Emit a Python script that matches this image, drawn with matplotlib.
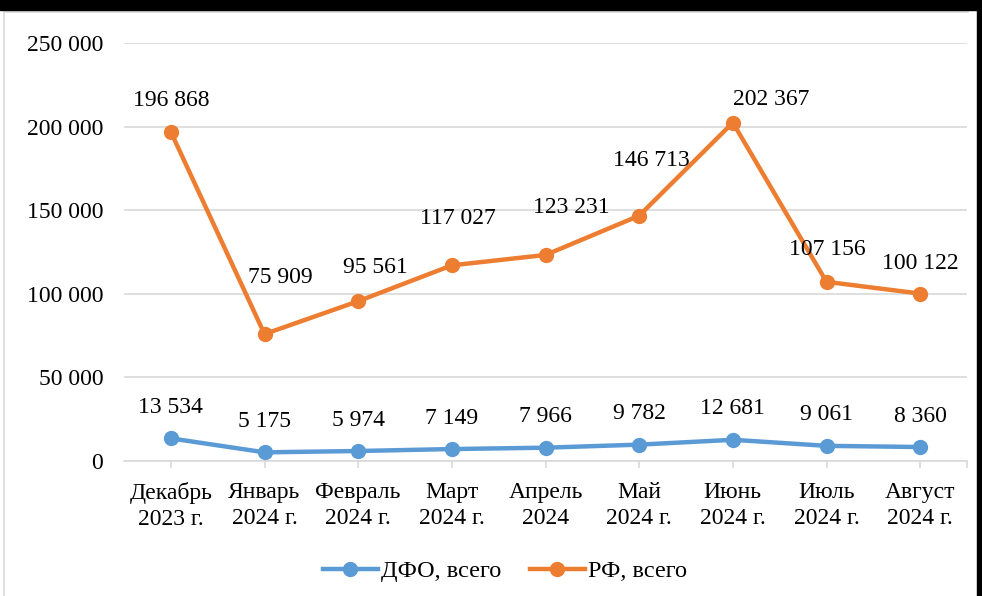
import matplotlib
matplotlib.use("Agg")
import matplotlib.pyplot as plt
from matplotlib.patches import Rectangle
from matplotlib.lines import Line2D

# === data ===
CATEGORIES = ["Декабрь\n2023 г.", "Январь\n2024 г.", "Февраль\n2024 г.", "Март\n2024 г.",
              "Апрель\n2024", "Май\n2024 г.", "Июнь\n2024 г.", "Июль\n2024 г.", "Август\n2024 г."]
DFO = [13534, 5175, 5974, 7149, 7966, 9782, 12681, 9061, 8360]
RF = [196868, 75909, 95561, 117027, 123231, 146713, 202367, 107156, 100122]
Y_TICKS = [0, 50000, 100000, 150000, 200000, 250000]

# label offsets (px) as placed by hand in the original chart
RF_LABEL_DX = [0, 16, 17, 6, 26, 12, 38, 1, 0]
RF_LABEL_DY = [31, 57, 34, 47, 47, 55, 23, 32, 30]
DFO_LABEL_DY = 31

BLUE = "#5B9BD5"
ORANGE = "#ED7D31"
GRID = "#D9D9D9"
FS = 17
PX = 72 / 100  # px -> points

plt.rcParams["font.family"] = ["Liberation Serif", "DejaVu Serif"]


def fmt(v):
    return f"{v:,}".replace(",", " ")


fig = plt.figure(figsize=(9.82, 5.96), dpi=100)
ax = fig.add_axes([124 / 982, 1 - 461 / 596, (967 - 124) / 982, (461 - 43) / 596])

x = list(range(len(CATEGORIES)))
ax.plot(x, DFO, color=BLUE, lw=3.2, marker="o", ms=10, label="ДФО, всего", zorder=3)
ax.plot(x, RF, color=ORANGE, lw=3.2, marker="o", ms=10, label="РФ, всего", zorder=3)

for xi, v in zip(x, DFO):
    ax.annotate(fmt(v), (xi, v), xytext=(0, DFO_LABEL_DY * PX), textcoords="offset points",
                ha="center", va="center", fontsize=FS)
for xi, v, dx, dy in zip(x, RF, RF_LABEL_DX, RF_LABEL_DY):
    ax.annotate(fmt(v), (xi, v), xytext=(dx * PX, dy * PX), textcoords="offset points",
                ha="center", va="center", fontsize=FS, zorder=4)

ax.set_xlim(-0.5, len(CATEGORIES) - 0.5)
ax.set_ylim(0, 250000)
ax.set_yticks(Y_TICKS)
ax.set_yticklabels([fmt(t) for t in Y_TICKS], fontsize=FS)
ax.set_xticks(x)
ax.set_xticklabels(CATEGORIES, fontsize=FS, linespacing=1.35)
ax.set_xticks([len(CATEGORIES) - 0.5], minor=True)
ax.grid(axis="y", color=GRID, lw=1.2)
ax.set_axisbelow(True)
for s in ["top", "right", "left"]:
    ax.spines[s].set_visible(False)
ax.spines["bottom"].set_color(GRID)
ax.spines["bottom"].set_linewidth(1.2)
ax.tick_params(axis="y", length=0, pad=15)
ax.tick_params(axis="x", which="both", length=5, color=GRID, width=1.2, pad=10)

fig.legend(loc="center", bbox_to_anchor=(505 / 982, 1 - 571 / 596), ncol=2,
           frameon=False, fontsize=17.5, handlelength=2.26, columnspacing=1.15,
           handletextpad=0.16)

# chart frame (left and top edges) and dark edges of the screenshot
fig.lines.append(Line2D([4 / 982, 4 / 982, 968 / 982], [0, 1 - 12 / 596, 1 - 12 / 596],
                        transform=fig.transFigure, color=GRID, lw=1.2))
fig.patches.append(Rectangle((0, 1 - 10 / 596), 1, 10 / 596, transform=fig.transFigure,
                             color="black", zorder=10))
fig.patches.append(Rectangle((977 / 982, 0), 5 / 982, 1, transform=fig.transFigure,
                             color="black", zorder=10))

fig.savefig("out.png", dpi=100)
